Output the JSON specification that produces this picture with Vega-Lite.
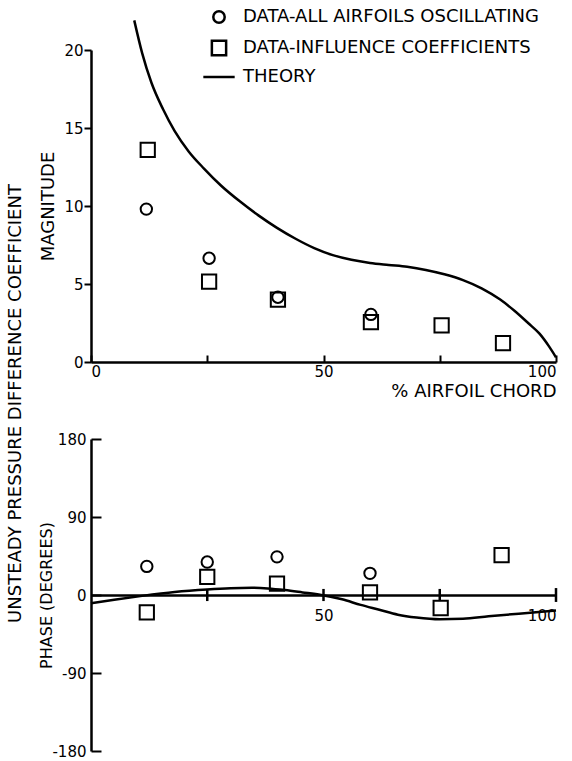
{
  "$schema": "https://vega.github.io/schema/vega-lite/v6.json",
  "padding": {"left": 6, "top": 8, "right": 5, "bottom": 5},
  "background": "white",
  "config": {
    "view": {"stroke": null},
    "font": "DejaVu Sans",
    "axis": {
      "grid": false,
      "domainColor": "black",
      "domainWidth": 2.5,
      "tickColor": "black",
      "tickWidth": 2,
      "labelColor": "black",
      "labelFontSize": 15,
      "titleColor": "black",
      "titleFontSize": 18,
      "titleFontWeight": "normal"
    }
  },
  "datasets": {
    "magTheory": [
      {"x": 9.3, "y": 21.9}, {"x": 11, "y": 19.8}, {"x": 13, "y": 17.9}, {"x": 15.5, "y": 16.2},
      {"x": 18, "y": 14.8}, {"x": 21, "y": 13.5}, {"x": 24.3, "y": 12.4}, {"x": 28, "y": 11.3},
      {"x": 32, "y": 10.3}, {"x": 36, "y": 9.4}, {"x": 40, "y": 8.6}, {"x": 44, "y": 7.9},
      {"x": 48, "y": 7.3}, {"x": 52, "y": 6.85}, {"x": 56, "y": 6.55}, {"x": 60, "y": 6.35},
      {"x": 64, "y": 6.22}, {"x": 68, "y": 6.1}, {"x": 72, "y": 5.9}, {"x": 76, "y": 5.62},
      {"x": 80, "y": 5.25}, {"x": 84, "y": 4.72}, {"x": 88, "y": 4.0}, {"x": 91, "y": 3.3},
      {"x": 94, "y": 2.5}, {"x": 96.5, "y": 1.8}, {"x": 98.5, "y": 1.0}, {"x": 100, "y": 0.3}
    ],
    "magPoints": [
      {"x": 11.9, "y": 9.8, "series": "DATA-ALL AIRFOILS OSCILLATING"},
      {"x": 25.4, "y": 6.65, "series": "DATA-ALL AIRFOILS OSCILLATING"},
      {"x": 40.2, "y": 4.15, "series": "DATA-ALL AIRFOILS OSCILLATING"},
      {"x": 60.2, "y": 3.05, "series": "DATA-ALL AIRFOILS OSCILLATING"},
      {"x": 12.2, "y": 13.6, "series": "DATA-INFLUENCE COEFFICIENTS"},
      {"x": 25.4, "y": 5.15, "series": "DATA-INFLUENCE COEFFICIENTS"},
      {"x": 40.2, "y": 4.0, "series": "DATA-INFLUENCE COEFFICIENTS"},
      {"x": 60.2, "y": 2.55, "series": "DATA-INFLUENCE COEFFICIENTS"},
      {"x": 75.4, "y": 2.34, "series": "DATA-INFLUENCE COEFFICIENTS"},
      {"x": 88.6, "y": 1.21, "series": "DATA-INFLUENCE COEFFICIENTS"}
    ],
    "phaseTheory": [
      {"x": 0, "y": -9.5}, {"x": 5, "y": -5.5}, {"x": 11, "y": -1}, {"x": 18, "y": 3.5},
      {"x": 25, "y": 6.4}, {"x": 30, "y": 7.8}, {"x": 34.6, "y": 8.3}, {"x": 38, "y": 7.6},
      {"x": 41.7, "y": 5.7}, {"x": 45.5, "y": 3}, {"x": 49.5, "y": 0}, {"x": 54, "y": -5},
      {"x": 58, "y": -11.4}, {"x": 62, "y": -17}, {"x": 66, "y": -22.7}, {"x": 70, "y": -26},
      {"x": 75, "y": -28}, {"x": 80, "y": -27.5}, {"x": 85.5, "y": -24.6}, {"x": 92, "y": -21.5},
      {"x": 100, "y": -18}
    ],
    "phasePoints": [
      {"x": 12, "y": 33, "series": "DATA-ALL AIRFOILS OSCILLATING"},
      {"x": 25, "y": 38, "series": "DATA-ALL AIRFOILS OSCILLATING"},
      {"x": 40, "y": 44, "series": "DATA-ALL AIRFOILS OSCILLATING"},
      {"x": 60, "y": 25, "series": "DATA-ALL AIRFOILS OSCILLATING"},
      {"x": 12, "y": -20, "series": "DATA-INFLUENCE COEFFICIENTS"},
      {"x": 25, "y": 21, "series": "DATA-INFLUENCE COEFFICIENTS"},
      {"x": 40, "y": 13, "series": "DATA-INFLUENCE COEFFICIENTS"},
      {"x": 60, "y": 3, "series": "DATA-INFLUENCE COEFFICIENTS"},
      {"x": 75.2, "y": -15, "series": "DATA-INFLUENCE COEFFICIENTS"},
      {"x": 88.3, "y": 46, "series": "DATA-INFLUENCE COEFFICIENTS"}
    ],
    "phaseTicks": [
      {"x": 25, "y": -7, "y2": 7}, {"x": 50, "y": -7, "y2": 7},
      {"x": 75, "y": -7, "y2": 7}, {"x": 100, "y": -8, "y2": 8}
    ]
  },
  "title": {
    "text": "UNSTEADY PRESSURE DIFFERENCE COEFFICIENT",
    "orient": "left",
    "anchor": "middle",
    "fontSize": 18,
    "fontWeight": "normal",
    "color": "black",
    "offset": 14,
    "dx": -20
  },
  "bounds": "flush",
  "spacing": 77,
  "resolve": {"scale": {"shape": "independent"}, "legend": {"shape": "independent"}},
  "vconcat": [
    {
      "width": 465,
      "height": 312,
      "layer": [
        {
          "data": {"name": "magTheory"},
          "mark": {"type": "line", "color": "black", "strokeWidth": 2.5, "interpolate": "monotone"},
          "encoding": {
            "x": {"field": "x", "type": "quantitative", "scale": {"domain": [0, 100], "nice": false},
              "axis": {"values": [0, 25, 50, 75, 100], "labelExpr": "datum.value % 50 === 0 ? datum.label : ''",
                "tickSize": -7, "labelPadding": 9, "title": "% AIRFOIL CHORD", "titleAnchor": "end", "titlePadding": 3}},
            "y": {"field": "y", "type": "quantitative", "scale": {"domain": [0, 20], "nice": false},
              "axis": {"values": [0, 5, 10, 15, 20], "tickSize": 7, "labelPadding": 1, "title": "MAGNITUDE", "titlePadding": 6}}
          }
        },
        {
          "data": {"name": "magPoints"},
          "mark": {"type": "point", "filled": false, "color": "black", "strokeWidth": 2, "opacity": 1, "size": 130},
          "encoding": {
            "x": {"field": "x", "type": "quantitative"},
            "y": {"field": "y", "type": "quantitative"},
            "shape": {"field": "series", "type": "nominal",
              "scale": {"domain": ["DATA-ALL AIRFOILS OSCILLATING", "DATA-INFLUENCE COEFFICIENTS", "THEORY"],
                "range": ["circle", "M-1.25,-1.25H1.25V1.25H-1.25Z", "M-2.75,0H2.75"]},
              "legend": {"title": null, "orient": "none", "legendX": 119, "legendY": -42, "labelFontSize": 18, "labelColor": "black", "labelLimit": 0,
                "symbolSize": 130, "symbolStrokeWidth": 2.5, "symbolStrokeColor": "black", "symbolFillColor": "white", "rowPadding": 7, "labelOffset": 15}}
          }
        }
      ]
    },
    {
      "width": 465,
      "height": 312,
      "layer": [
        {
          "data": {"name": "phaseTheory"},
          "mark": {"type": "line", "color": "black", "strokeWidth": 2.5, "interpolate": "monotone"},
          "encoding": {
            "x": {"field": "x", "type": "quantitative", "scale": {"domain": [0, 100], "nice": false},
              "axis": {"values": [50, 100], "offset": -156, "ticks": false, "labelPadding": 13, "title": null}},
            "y": {"field": "y", "type": "quantitative", "scale": {"domain": [-180, 180], "nice": false},
              "axis": {"values": [-180, -90, 0, 90, 180], "labelExpr": "'' + datum.value", "tickSize": -10, "labelPadding": 15,
                "title": "PHASE (DEGREES)", "titleFontSize": 16, "titlePadding": -3}}
          }
        },
        {
          "data": {"name": "phaseTicks"},
          "mark": {"type": "rule", "color": "black", "strokeWidth": 2.5},
          "encoding": {
            "x": {"field": "x", "type": "quantitative"},
            "y": {"field": "y", "type": "quantitative"},
            "y2": {"field": "y2"}
          }
        },
        {
          "data": {"name": "phasePoints"},
          "mark": {"type": "point", "filled": false, "color": "black", "strokeWidth": 2, "opacity": 1, "size": 130},
          "encoding": {
            "x": {"field": "x", "type": "quantitative"},
            "y": {"field": "y", "type": "quantitative"},
            "shape": {"field": "series", "type": "nominal",
              "scale": {"domain": ["DATA-ALL AIRFOILS OSCILLATING", "DATA-INFLUENCE COEFFICIENTS", "THEORY"],
                "range": ["circle", "M-1.25,-1.25H1.25V1.25H-1.25Z", "M-2.75,0H2.75"]},
              "legend": null}
          }
        }
      ]
    }
  ]
}
